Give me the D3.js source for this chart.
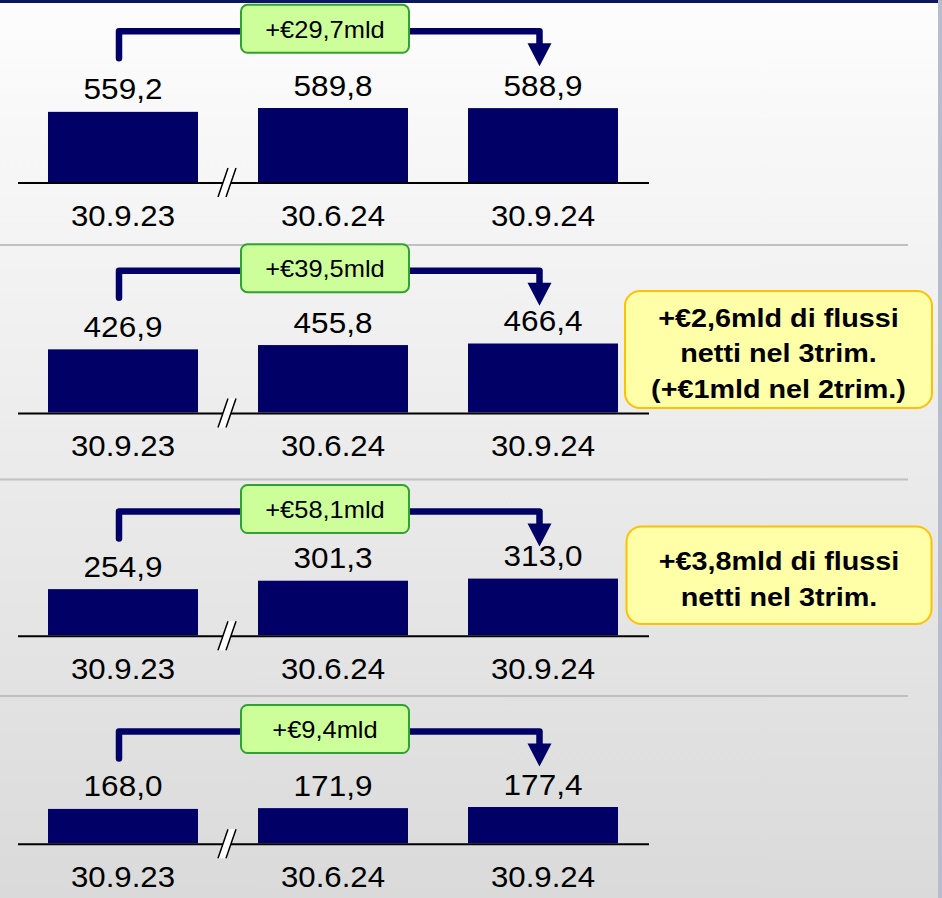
<!DOCTYPE html>
<html>
<head>
<meta charset="utf-8">
<script src="https://cdn.jsdelivr.net/npm/d3@7"></script>
<style>
  html, body { margin: 0; padding: 0; background: #fff; }
  svg { display: block; }
</style>
</head>
<body>
<svg id="chart" width="942" height="898"></svg>
<script>
// ---- data ----
const categories = ["30.9.23", "30.6.24", "30.9.24"];
const seriesA = [559.2, 589.8, 588.9];
const seriesB = [426.9, 455.8, 466.4];
const seriesC = [254.9, 301.3, 313.0];
const seriesD = [168.0, 171.9, 177.4];
const allSeries = [seriesA, seriesB, seriesC, seriesD];
const growthLabels = ["+€29,7mld", "+€39,5mld", "+€58,1mld", "+€9,4mld"];
const notesB = ["+€2,6mld di flussi", "netti nel 3trim.", "(+€1mld nel 2trim.)"];
const notesC = ["+€3,8mld di flussi", "netti nel 3trim."];
const panelNotes = [null, notesB, notesC, null];

// ---- layout (positions / sizes only) ----
const W = 942, H = 898;
const FONT = "'Liberation Sans', Arimo, Arial, Helvetica, Roboto, sans-serif";
const panelLayout = [
  { baseline: 182, bracketY: 31.3, maxH: 74 },
  { baseline: 412.5, bracketY: 270.7, maxH: 69 },
  { baseline: 635.3, bracketY: 511.5, maxH: 56.7 },
  { baseline: 843.3, bracketY: 731.5, maxH: 36.3 }
];
const separatorYs = [245, 479.5, 696];
const noteBoxes = [null, { x: 625, y: 291, w: 307, h: 117 }, { x: 626.5, y: 526.5, w: 305, h: 97.5 }, null];

const NAVY = "#000066";
const fmt = d3.formatLocale({ decimal: ",", thousands: ".", grouping: [3], currency: ["€", ""] }).format(".1f");

const svg = d3.select("#chart");
const defs = svg.append("defs");
const bg = defs.append("linearGradient").attr("id", "bg").attr("x1", 0).attr("y1", 0).attr("x2", 0).attr("y2", 1);
bg.append("stop").attr("offset", 0).attr("stop-color", "#fdfdfd");
bg.append("stop").attr("offset", 1).attr("stop-color", "#dadada");

svg.append("rect").attr("width", W).attr("height", H).attr("fill", "url(#bg)");
svg.append("rect").attr("x", 0).attr("y", 0).attr("width", W).attr("height", 3).attr("fill", "#0b1660");
svg.append("rect").attr("x", 938).attr("y", 0).attr("width", 4).attr("height", H).attr("fill", "#b6bdcc");

svg.selectAll("line.sep").data(separatorYs).join("line")
  .attr("class", "sep")
  .attr("x1", 0).attr("x2", 908)
  .attr("y1", d => d).attr("y2", d => d)
  .attr("stroke", "#c0c0c0").attr("stroke-width", 2);

const x = d3.scaleBand().domain(categories).range([18, 648]).paddingInner(2 / 7).paddingOuter(1 / 7);

function stretchText(g, str, tx, ty, size, sx, weight) {
  return g.append("text")
    .attr("transform", `translate(${tx},${ty}) scale(${sx},1)`)
    .attr("text-anchor", "middle")
    .attr("font-family", FONT)
    .attr("font-size", size)
    .attr("font-weight", weight || "normal")
    .attr("fill", "#000")
    .text(str);
}

allSeries.forEach((values, i) => {
  const L = panelLayout[i];
  const g = svg.append("g");
  const y = d3.scaleLinear().domain([0, d3.max(values)]).range([L.baseline, L.baseline - L.maxH]);
  const data = categories.map((c, j) => ({ c, v: values[j] }));

  g.selectAll("rect.bar").data(data).join("rect")
    .attr("class", "bar")
    .attr("x", d => x(d.c)).attr("width", x.bandwidth())
    .attr("y", d => y(d.v)).attr("height", d => y(0) - y(d.v))
    .attr("fill", NAVY);

  // baseline
  g.append("line")
    .attr("x1", 18).attr("x2", 649)
    .attr("y1", L.baseline + 1).attr("y2", L.baseline + 1)
    .attr("stroke", "#000").attr("stroke-width", 2);

  // axis break
  const mx = (x(categories[0]) + x.bandwidth() + x(categories[1])) / 2;
  const b = L.baseline;
  g.append("path")
    .attr("d", `M${mx - 10},${b + 15} L${mx},${b - 14} L${mx + 8},${b - 14} L${mx - 2},${b + 15} Z`)
    .attr("fill", "#fff");
  g.append("path")
    .attr("d", `M${mx - 10},${b + 15} L${mx},${b - 14} M${mx - 2},${b + 15} L${mx + 8},${b - 14}`)
    .attr("stroke", "#000").attr("stroke-width", 1.5).attr("fill", "none");

  // value labels
  data.forEach(d => {
    stretchText(g, fmt(d.v), x(d.c) + x.bandwidth() / 2, y(d.v) - 12.5, 30, 1.05);
    stretchText(g, d.c, x(d.c) + x.bandwidth() / 2, L.baseline + 43.5, 30, 1.04);
  });

  // bracket
  const lx = x(categories[0]) + x.bandwidth() / 2 - 4;
  const rx = x(categories[2]) + x.bandwidth() / 2 - 3.5;
  const by = L.bracketY;
  g.append("path")
    .attr("d", `M${lx},${by + 27} L${lx},${by} L${rx},${by} L${rx},${by + 13}`)
    .attr("fill", "none").attr("stroke", NAVY).attr("stroke-width", 6.5)
    .attr("stroke-linejoin", "round").attr("stroke-linecap", "round");
  g.append("path")
    .attr("d", `M${rx - 12},${by + 12} L${rx + 12},${by + 12} L${rx},${by + 35} Z`)
    .attr("fill", NAVY);

  // growth box
  const gx = 241, gw = 168, gh = 48, gcy = by - 2.5;
  g.append("rect")
    .attr("x", gx).attr("y", gcy - gh / 2).attr("width", gw).attr("height", gh)
    .attr("rx", 6.5).attr("ry", 6.5)
    .attr("fill", "#ccff99").attr("stroke", "#33a033").attr("stroke-width", 2);
  stretchText(g, growthLabels[i], gx + gw / 2, gcy + 9, 24, 1.06);

  // note box
  const notes = panelNotes[i];
  const nb = noteBoxes[i];
  if (notes && nb) {
    g.append("rect")
      .attr("x", nb.x).attr("y", nb.y).attr("width", nb.w).attr("height", nb.h)
      .attr("rx", 15).attr("ry", 15)
      .attr("fill", "#ffffa8").attr("stroke", "#ffc000").attr("stroke-width", 2);
    const cx = nb.x + nb.w / 2;
    const lh = 35.5;
    const cy = nb.y + nb.h / 2 + 3.5;
    notes.forEach((t, k) => {
      const lineCy = cy + (k - (notes.length - 1) / 2) * lh;
      stretchText(g, t, cx, lineCy + 9, 25, 1.15, "bold");
    });
  }
});
</script>
</body>
</html>
